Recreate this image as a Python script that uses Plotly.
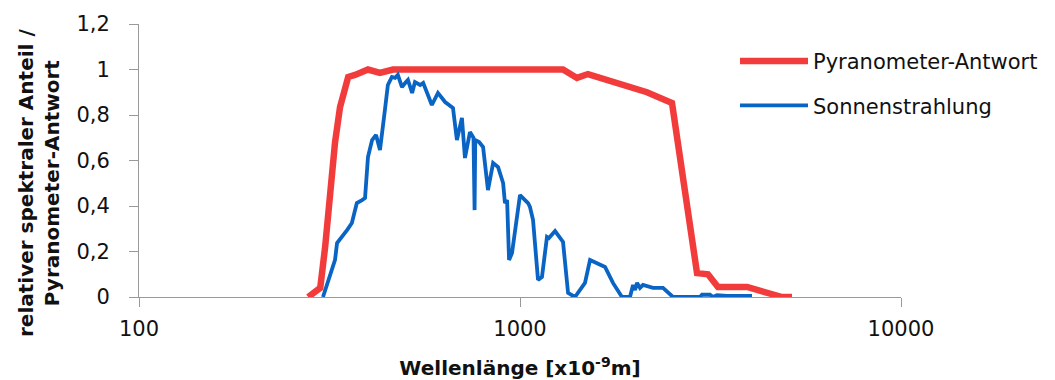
import plotly.graph_objects as go

# Pyranometer response (wavelength in nm, relative response)
pyr_wl = [278, 299, 308, 317, 327, 337, 354, 369, 399, 429, 464, 1297, 1411, 1508,
          1622, 1909, 2154, 2506, 2915, 3114, 3308, 3944, 4450, 4873, 5175]
pyr_val = [0, 0.04, 0.22, 0.46, 0.68, 0.835, 0.967, 0.976, 1.0, 0.985, 1.0, 1.0, 0.963, 0.98,
           0.963, 0.93, 0.90, 0.853, 0.105, 0.1, 0.044, 0.044, 0.022, 0.0, 0.0]

# Solar irradiance (relative spectral share)
sun_wl = [304, 327, 331, 341, 352, 362, 373, 385, 392, 399, 409, 419, 429, 442, 450, 461,
          470, 478, 490, 502, 508, 521, 530, 547, 557, 587, 609, 636, 667, 683, 704, 717,
          739, 755, 760, 763, 781, 800, 824, 850, 876, 903, 913, 925, 936, 953, 1000, 1050,
          1062, 1082, 1115, 1142, 1177, 1191, 1236, 1297, 1337, 1394, 1481, 1527, 1573, 1672,
          1754, 1852, 1944, 1980, 2004, 2029, 2065, 2103, 2234, 2373, 2521, 2968, 3004, 3152,
          3210, 3289, 3494, 4064]
sun_val = [0, 0.163, 0.237, 0.264, 0.295, 0.325, 0.413, 0.426, 0.435, 0.615, 0.69, 0.712,
           0.646, 0.822, 0.932, 0.967, 0.963, 0.976, 0.923, 0.945, 0.954, 0.897, 0.945, 0.932,
           0.941, 0.844, 0.897, 0.857, 0.831, 0.69, 0.787, 0.611, 0.725, 0.70, 0.382, 0.69,
           0.681, 0.659, 0.47, 0.589, 0.571, 0.501, 0.413, 0.426, 0.163, 0.193, 0.448, 0.413,
           0.396, 0.338, 0.075, 0.088, 0.264, 0.259, 0.29, 0.242, 0.018, 0, 0.062, 0.163, 0.154,
           0.132, 0.062, 0, 0, 0.053, 0.031, 0.062, 0.04, 0.053, 0.04, 0.04, 0, 0, 0.01, 0.01,
           0, 0.008, 0.005, 0.005]

x_tickvals = [100, 1000, 10000]
x_ticktext = ["100", "1000", "10000"]
series_names = ["Pyranometer-Antwort", "Sonnenstrahlung"]

fig = go.Figure()
fig.add_trace(go.Scatter(x=pyr_wl, y=pyr_val, mode="lines", name=series_names[0],
                         line=dict(color="#F23C3C", width=6.5), legendgroup="a"))
fig.add_trace(go.Scatter(x=sun_wl, y=sun_val, mode="lines", name=series_names[1],
                         line=dict(color="#0A64C4", width=3.8), legendgroup="b"))

# the page body adds an 8px offset; figure is sized to fit the 1055x380 window
W, H = 1047, 372
L, T, R, B = 131, 16, 154, 83
pw, ph = W - L - R, H - T - B

fig.update_layout(
    width=W, height=H,
    margin=dict(l=L, r=R, t=T, b=B),
    paper_bgcolor="white", plot_bgcolor="white",
    separators=",.",
    font=dict(family="DejaVu Sans", size=21, color="#111111"),
    showlegend=True,
    legend=dict(x=(735 - 139) / pw, xanchor="left", y=0.938, yanchor="top",
                font=dict(family="DejaVu Sans", size=21, color="#111111"),
                itemwidth=68, tracegroupgap=14, traceorder="grouped",
                bgcolor="rgba(0,0,0,0)"),
    xaxis=dict(type="log", range=[2, 4], tickvals=x_tickvals, ticktext=x_ticktext,
               showgrid=False, zeroline=False, showline=True, linecolor="#999999",
               linewidth=1, ticks="outside", ticklen=9, tickcolor="#999999",
               ticklabelstandoff=4, automargin=False,
               title=dict(text="Wellenlänge [x10<sup>-9</sup>m]",
                          font=dict(family="DejaVu Sans", size=20, color="#111111",
                                    weight="bold"),
                          standoff=21)),
    yaxis=dict(range=[0, 1.2], dtick=0.2, tick0=0, automargin=False,
               showgrid=False, zeroline=False, showline=True, linecolor="#999999",
               linewidth=1, ticks="outside", ticklen=9, tickcolor="#999999",
               ticklabelstandoff=15),
    annotations=[dict(text="relativer spektraler Anteil /<br>Pyranometer-Antwort",
                      textangle=-90, xref="paper", yref="paper",
                      x=(39 - 139) / pw, y=(297 - 183) / ph,
                      xanchor="center", yanchor="middle", showarrow=False,
                      font=dict(family="DejaVu Sans", size=20, color="#111111",
                                weight="bold"))],
)

fig.write_html("out.html")
